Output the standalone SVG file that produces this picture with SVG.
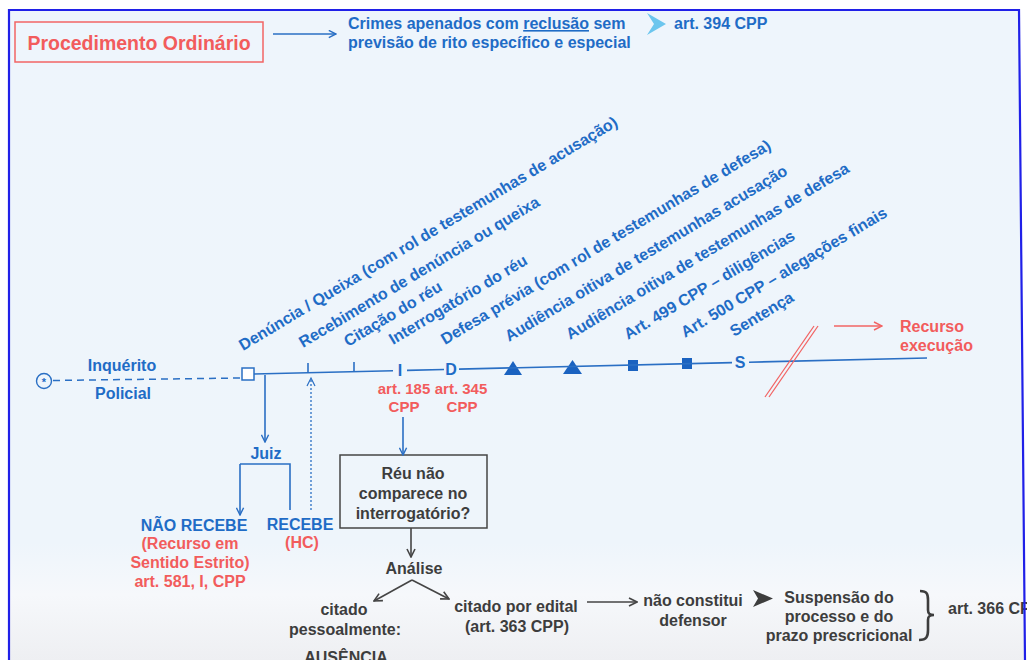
<svg xmlns="http://www.w3.org/2000/svg" width="1027" height="660" viewBox="0 0 1027 660">
<defs>
<linearGradient id="bg" x1="0" y1="0" x2="0" y2="1">
<stop offset="0" stop-color="#eef5fc"/>
<stop offset="0.82" stop-color="#eef5fb"/>
<stop offset="0.9" stop-color="#f6f8fb"/>
<stop offset="1" stop-color="#eeeff2"/>
</linearGradient>
<marker id="ab" viewBox="0 0 10 10" refX="9" refY="5" markerWidth="9" markerHeight="9" markerUnits="userSpaceOnUse" orient="auto"><path d="M1,1 L9,5 L1,9" fill="none" stroke="#2a6fc4" stroke-width="1.6"/></marker>
<marker id="ag" viewBox="0 0 10 10" refX="9" refY="5" markerWidth="10" markerHeight="10" markerUnits="userSpaceOnUse" orient="auto"><path d="M1,1 L9,5 L1,9" fill="none" stroke="#454545" stroke-width="1.6"/></marker>
<marker id="ar" viewBox="0 0 10 10" refX="9" refY="5" markerWidth="10" markerHeight="10" markerUnits="userSpaceOnUse" orient="auto"><path d="M1,1 L9,5 L1,9" fill="none" stroke="#f26464" stroke-width="1.4"/></marker>
<style>
text{font-family:"Liberation Sans",Arial,sans-serif;font-weight:bold}
.blue{fill:#1f6cc6}
.red{fill:#f25c5c}
.grey{fill:#3d3d3d}
.f15{font-size:15px}
.f16{font-size:16px}
.diag{font-size:16px;fill:#1f6cc6}
.c{text-anchor:middle}
.lb{stroke:#2a6fc4;stroke-width:1.6;fill:none}
.lg{stroke:#454545;stroke-width:1.6;fill:none}
.lr{stroke:#f26464;stroke-width:1.3;fill:none}
</style>
</defs>
<rect x="0" y="0" width="1027" height="660" fill="#ffffff"/>
<path d="M9,10 L1019,10 L1025,660 L9,660 Z" fill="url(#bg)"/>

<g id="title">
<rect x="15" y="22" width="248" height="40" fill="none" stroke="#f26464" stroke-width="1.5"/>
<text x="139" y="50" class="red c" style="font-size:19.5px">Procedimento Ordinário</text>
</g>

<g id="crimes">
<text x="348" y="29" class="blue f16">Crimes apenados com <tspan text-decoration="underline">reclusão</tspan> sem</text>
<text x="348" y="48" class="blue f16">previsão de rito específico e especial</text>
</g>

<g id="art394">
<path d="M647,13 L666,24 L647,35 L654,24 Z" fill="#6cc6ee"/>
<text x="674" y="29" class="blue f16">art. 394 CPP</text>
</g>

<g id="inquerito">
<circle cx="44" cy="381" r="7.5" fill="none" stroke="#2a6fc4" stroke-width="1.4"/>
<text x="44" y="386" class="blue c" style="font-size:11px">*</text>
<text x="122" y="371" class="blue c f16">Inquérito</text>
<text x="123" y="399" class="blue c f16">Policial</text>
</g>

<g id="timeline-nodes">
<rect x="242" y="368" width="12" height="12" fill="#ffffff" stroke="#2a6fc4" stroke-width="1.5"/>
<text x="400" y="376" class="blue c f16">I</text>
<text x="451" y="375" class="blue c f16">D</text>
<polygon points="504,375 522,375 513,361" fill="#1a62c0"/>
<polygon points="563,374 582,374 572.5,360" fill="#1a62c0"/>
<rect x="628" y="360" width="10" height="11" fill="#1a62c0"/>
<rect x="682" y="358" width="10" height="11" fill="#1a62c0"/>
<text x="740" y="368" class="blue c f16">S</text>
</g>

<g id="labels">
<text x="243" y="351" class="diag" transform="rotate(-31 243 351)">Denúncia / Queixa (com rol de testemunhas de acusação)</text>
<text x="303" y="348" class="diag" transform="rotate(-31 303 348)">Recebimento de denúncia ou queixa</text>
<text x="348" y="347" class="diag" transform="rotate(-31 348 347)">Citação do réu</text>
<text x="393" y="345" class="diag" transform="rotate(-31 393 345)">Interrogatório do réu</text>
<text x="445" y="345" class="diag" transform="rotate(-31 445 345)">Defesa prévia (com rol de testemunhas de defesa)</text>
<text x="509" y="342" class="diag" transform="rotate(-31 509 342)">Audiência oitiva de testemunhas acusação</text>
<text x="570" y="340" class="diag" transform="rotate(-31 570 340)">Audiência oitiva de testemunhas de defesa</text>
<text x="628" y="340" class="diag" transform="rotate(-31 628 340)">Art. 499 CPP – diligências</text>
<text x="685" y="338" class="diag" transform="rotate(-31 685 338)">Art. 500 CPP – alegações finais</text>
<text x="734" y="337" class="diag" transform="rotate(-31 734 337)">Sentença</text>
</g>

<g id="arts">
<text x="404" y="394" class="red c f15">art. 185</text>
<text x="404" y="412" class="red c f15">CPP</text>
<text x="461" y="394" class="red c f15">art. 345</text>
<text x="462" y="412" class="red c f15">CPP</text>
</g>

<g id="recurso">
<text x="900" y="332" class="red f16">Recurso</text>
<text x="900" y="351" class="red f16">execução</text>
</g>

<g id="juiz">
<text x="266" y="459" class="blue c f16">Juiz</text>
</g>

<g id="nao-recebe">
<text x="194" y="531" class="blue c f16">NÃO RECEBE</text>
<text x="190" y="549" class="red c f16">(Recurso em</text>
<text x="190" y="568" class="red c f16">Sentido Estrito)</text>
<text x="190" y="587" class="red c f16">art. 581, I, CPP</text>
</g>

<g id="recebe">
<text x="300" y="530" class="blue c f16">RECEBE</text>
<text x="302" y="548" class="red c f16">(HC)</text>
</g>

<g id="reu">
<rect x="340" y="455" width="147" height="73" fill="none" stroke="#454545" stroke-width="1.5"/>
<text x="413" y="479" class="grey c f16">Réu não</text>
<text x="413" y="499" class="grey c f16">comparece no</text>
<text x="413" y="519" class="grey c f16">interrogatório?</text>
</g>

<g id="analise">
<text x="414" y="574" class="grey c f16">Análise</text>
</g>

<g id="pessoal">
<text x="344" y="615" class="grey c f16">citado</text>
<text x="345" y="635" class="grey c f16">pessoalmente:</text>
<text x="346" y="663" class="grey c f16">AUSÊNCIA</text>
</g>

<g id="edital">
<text x="516" y="612" class="grey c f16">citado por edital</text>
<text x="517" y="632" class="grey c f16">(art. 363 CPP)</text>
</g>

<g id="defensor">
<text x="693" y="606" class="grey c f16">não constitui</text>
<text x="693" y="626" class="grey c f16">defensor</text>
</g>

<g id="suspensao">
<text x="839" y="603" class="grey c f16">Suspensão do</text>
<text x="839" y="622" class="grey c f16">processo e do</text>
<text x="839" y="641" class="grey c f16">prazo prescricional</text>
<path d="M920,591 C927,591 928,594 928,600 L928,610 C928,614 930,615 934,615 C930,615 928,616 928,620 L928,630 C928,636 927,640 919,640" fill="none" stroke="#3d3d3d" stroke-width="2.6"/>
<text x="948" y="614" class="grey f16">art. 366 CPP</text>
</g>

<g id="connectors">
<line x1="273" y1="34" x2="336" y2="34" class="lb" marker-end="url(#ab)"/>
<line x1="53" y1="380.5" x2="241" y2="378" stroke="#2a6fc4" stroke-width="1.5" stroke-dasharray="7,5"/>
<line x1="254" y1="374" x2="393" y2="370.7" class="lb"/>
<line x1="407" y1="370.4" x2="444" y2="369.5" class="lb"/>
<line x1="459" y1="369.1" x2="732" y2="362.6" class="lb"/>
<line x1="749" y1="362.2" x2="927" y2="358" class="lb"/>
<line x1="308" y1="363" x2="308" y2="373" class="lb"/>
<line x1="354" y1="362" x2="354" y2="372" class="lb"/>
<line x1="765" y1="397" x2="814" y2="326" class="lr"/>
<line x1="769" y1="397" x2="818" y2="326" class="lr"/>
<line x1="834" y1="326" x2="882" y2="326" class="lr" marker-end="url(#ar)"/>
<line x1="265" y1="375" x2="265" y2="442" class="lb" marker-end="url(#ab)"/>
<polyline points="240,464 290,464 290,510" class="lb"/>
<line x1="240" y1="464" x2="240" y2="515" class="lb" marker-end="url(#ab)"/>
<line x1="311" y1="510" x2="311" y2="379" stroke="#2a6fc4" stroke-width="1.3" stroke-dasharray="2,2"/>
<path d="M307,386 L311,378 L315,386" fill="none" stroke="#2a6fc4" stroke-width="1.2"/>
<line x1="403" y1="417" x2="403" y2="455" class="lb" marker-end="url(#ab)"/>
<line x1="411" y1="528" x2="411" y2="557" class="lg" marker-end="url(#ag)"/>
<line x1="412" y1="580" x2="374" y2="601" class="lg" marker-end="url(#ag)"/>
<line x1="412" y1="580" x2="449" y2="599" class="lg" marker-end="url(#ag)"/>
<line x1="587" y1="602" x2="637" y2="602" class="lg" marker-end="url(#ag)"/>
<path d="M753,590 L773,598.5 L753,607 L758,598.5 Z" fill="#3d3d3d"/>
</g>

<path d="M9,660 L9,10 L1019,10 L1025,660" fill="none" stroke="#2020e8" stroke-width="2.2"/>
</svg>
